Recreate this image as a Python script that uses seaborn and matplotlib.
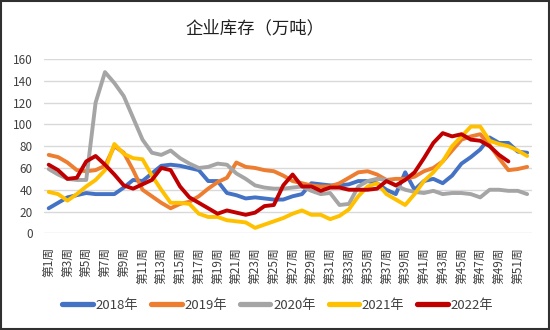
import numpy as np
import pandas as pd
import matplotlib
matplotlib.use("Agg")
import matplotlib.pyplot as plt
from matplotlib.patches import Rectangle
import seaborn as sns

weeks = list(range(1, 53))
week_labels = [f"第{w}周" for w in weeks]

y2018 = [23, 28, 33, 35, 37, 36, 36, 36, 42, 49, 48, 55, 62, 63, 62, 60, 58, 48, 48, 37,
         35, 32, 33, 32, 31, 31, 34, 36, 46, 45, 44, 44, 45, 48, 48, 46, 40, 36, 56, 40,
         48, 50, 46, 53, 64, 70, 77, 88, 83, 83, 75, 74]
y2019 = [72, 70, 65, 58, 57, 58, 62, 80, 74, 58, 40, 34, 28, 23, 27, 29, 34, 41, 47, 51,
         65, 61, 60, 58, 57, 53, 48, 46, 44, 43, 43, 46, 51, 56, 57, 54, 49, 50, 50, 52,
         57, 60, 66, 76, 86, 89, 91, 81, 69, 58, 59, 61]
y2020 = [59, 54, 50, 49, 49, 120, 148, 138, 126, 106, 86, 74, 72, 76, 69, 64, 60, 61, 64, 63,
         55, 50, 44, 42, 41, 41, 42, 43, 39, 36, 37, 26, 27, 43, 48, 50, 49, 44, 40, 38,
         37, 39, 36, 37, 37, 36, 33, 40, 40, 39, 39, 36]
y2021 = [38, 36, 30, 36, 43, 49, 58, 82, 73, 69, 68, 53, 40, 28, 28, 27, 18, 15, 15, 12,
         11, 10, 5, 8, 11, 14, 18, 21, 17, 17, 13, 16, 22, 34, 43, 46, 36, 31, 26, 36,
         48, 56, 66, 80, 89, 98, 98, 85, 82, 80, 76, 71]
y2022 = [63, 58, 50, 51, 66, 71, 63, 54, 44, 41, 45, 49, 60, 58, 43, 33, 28, 23, 18, 21,
         19, 17, 19, 25, 26, 44, 54, 43, 43, 39, 42, 42, 40, 40, 40, 41, 48, 44, 49, 56,
         69, 83, 92, 89, 91, 86, 85, 80, 72, 66, np.nan, np.nan]

series = {"2018年": y2018, "2019年": y2019, "2020年": y2020, "2021年": y2021, "2022年": y2022}
colors = ["#4472C4", "#ED7D31", "#A5A5A5", "#FFC000", "#C00000"]

frames = [pd.DataFrame({"week": weeks, "value": v, "year": k}) for k, v in series.items()]
df = pd.concat(frames, ignore_index=True).dropna()

sns.set_theme(style="white")
plt.rcParams["font.family"] = ["Noto Sans CJK SC", "DejaVu Sans"]

fig = plt.figure(figsize=(5.5, 3.3), dpi=100)
ax = fig.add_axes([0.08, 0.293, 0.887, 0.528])

sns.lineplot(data=df, x="week", y="value", hue="year", palette=colors,
             linewidth=2.8, ax=ax, legend=True, sort=False)

ax.set_xlim(0.5, 52.5)
ax.set_ylim(0, 160)
ax.set_yticks(range(0, 161, 20))
ax.set_xticks(weeks[::2])
ax.set_xticklabels(week_labels[::2], rotation=90, fontsize=8.5, color="#404040")
ax.tick_params(axis="y", labelsize=8.5, colors="#404040", length=0, pad=8)
ax.tick_params(axis="x", length=0, pad=10)
ax.set_xlabel("")
ax.set_ylabel("")
ax.grid(axis="y", color="#D9D9D9", linewidth=1)
ax.set_axisbelow(True)
for s in ax.spines.values():
    s.set_visible(False)

handles, labels = ax.get_legend_handles_labels()
for h in handles:
    h.set_linewidth(3.8)
ax.legend(handles, labels, loc="center", bbox_to_anchor=(0.505, 0.075),
          bbox_transform=fig.transFigure, ncol=5, frameon=False,
          fontsize=9.5, handlelength=2.3, handletextpad=0.2, columnspacing=1.0,
          labelcolor="#404040")

fig.text(0.464, 0.915, "企业库存（万吨）", ha="center", va="center",
         fontsize=12.5, color="#202020")

fig.patches.append(Rectangle((0.001, 0.002), 0.997, 0.995, transform=fig.transFigure,
                             fill=False, edgecolor="#303030", linewidth=1.5))

fig.savefig("out.png", dpi=100)
